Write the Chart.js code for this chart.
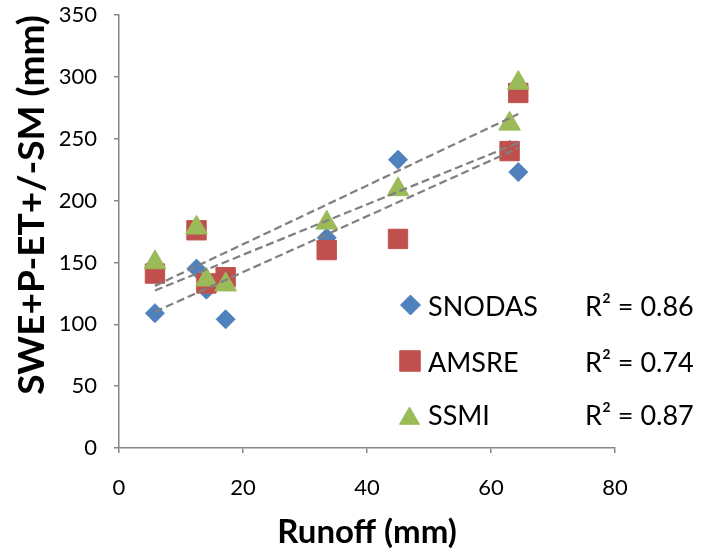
<!DOCTYPE html>
<html lang="en">
<head>
<meta charset="UTF-8" />
<title>Runoff vs SWE+P-ET+/-SM</title>
<style>
  html,body{margin:0;padding:0;background:#fff;}
  #wrap{position:relative;width:701px;height:553px;}
</style>
<script src="https://cdn.jsdelivr.net/npm/chart.js"></script>
</head>
<body>
<div id="wrap"><canvas id="chart" width="701" height="553"></canvas></div>
<script>
/* ====== data ====== */
const runoff = [5.8, 12.5, 14.1, 17.2, 33.5, 45.0, 63.0, 64.4];   // mm
const snodas = [109, 145, 128, 104, 170, 233, 241, 223];
const amsre  = [141, 176, 133, 138, 160, 169, 240, 287];
const ssmi   = [150, 178, 136, 132, 182, 209, 262, 295];
const seriesNames = ['SNODAS', 'AMSRE', 'SSMI'];
const rSquared    = ['0.86', '0.74', '0.87'];
const xTicks = [0, 20, 40, 60, 80];
const yTicks = [0, 50, 100, 150, 200, 250, 300, 350];

/* ====== styles ====== */
const BLUE = '#4F81BD', RED = '#C0504D', GREEN = '#9BBB59';
const AXIS = '#868686', TREND = '#808080';
const FONT = 'Lato, "Open Sans", sans-serif';

const pts = ys => runoff.map((x, i) => ({x, y: ys[i]}));

// least squares line, drawn over the data's x range (like the Excel trendline)
function trend(xs, ys){
  const n = xs.length;
  const mx = xs.reduce((a, b) => a + b) / n, my = ys.reduce((a, b) => a + b) / n;
  let sxy = 0, sxx = 0;
  xs.forEach((x, i) => { sxy += (x - mx) * (ys[i] - my); sxx += (x - mx) ** 2; });
  const b = sxy / sxx, a = my - b * mx;
  const x0 = Math.min(...xs), x1 = Math.max(...xs);
  return [{x: x0, y: a + b * x0}, {x: x1, y: a + b * x1}];
}

const trendDs = ys => ({
  type: 'line', data: trend(runoff, ys), borderColor: TREND, borderWidth: 2.25,
  borderDash: [8, 4], pointRadius: 0, fill: false, order: 0
});

const marks = [
  {name: seriesNames[0], color: BLUE,  style: 'rectRot',  r: 9.5},
  {name: seriesNames[1], color: RED,   style: 'rect',     r: 13.7},
  {name: seriesNames[2], color: GREEN, style: 'triangle', r: 12.5}
];

/* ====== legend inside plot ====== */
const insideLegend = {
  id: 'insideLegend',
  afterDraw(chart){
    const ctx = chart.ctx;
    const rows = [
      {mx: 410.5, my: 305,   ty: 307.5, r: 10},
      {mx: 410,   my: 361,   ty: 363,   r: 14.5},
      {mx: 409.5, my: 418.5, ty: 416.5, r: 11.5}
    ];
    ctx.save();
    rows.forEach((row, i) => {
      const m = marks[i];
      ctx.fillStyle = m.color; ctx.strokeStyle = m.color;
      Chart.helpers.drawPoint(ctx, {pointStyle: m.style, radius: row.r, rotation: 0, borderWidth: 1}, row.mx, row.my);
      ctx.fillStyle = '#000';
      ctx.font = '27px ' + FONT;
      ctx.textBaseline = 'middle';
      ctx.textAlign = 'left';
      ctx.fillText(m.name, 428, row.ty);
      ctx.fillText('R² = ' + rSquared[i], 585, row.ty);
    });
    ctx.restore();
  }
};

/* ====== chart ====== */
new Chart(document.getElementById('chart').getContext('2d'), {
  type: 'scatter',
  data: {
    datasets: [
      trendDs(snodas), trendDs(amsre), trendDs(ssmi),
      ...[ssmi, amsre, snodas].map((ys, k) => {
        const m = marks[2 - k];
        return {label: m.name, data: pts(ys), backgroundColor: m.color, borderColor: m.color,
          borderWidth: 1, pointStyle: m.style, pointRadius: m.r, pointHoverRadius: m.r, order: k + 1};
      })
    ]
  },
  options: {
    responsive: false, animation: false, events: [],
    layout: {padding: {left: 0, top: 15, right: 86, bottom: 0}},
    plugins: {legend: {display: false}, tooltip: {enabled: false}},
    scales: {
      x: {
        type: 'linear', min: 0, max: 80,
        afterBuildTicks: s => { s.ticks = xTicks.map(v => ({value: v})); },
        afterFit: s => { s.height = 105; },
        grid: {drawOnChartArea: false, drawTicks: true, tickLength: 5, color: AXIS, lineWidth: 1.5},
        border: {color: AXIS, width: 1.5},
        ticks: {color: '#000', padding: 22, font: {family: FONT, size: 22}},
        title: {display: true, text: 'Runoff (mm)', color: '#000', padding: {top: 0, bottom: 1},
          font: {family: FONT, size: 33, weight: 'bold', lineHeight: 1.2}}
      },
      y: {
        type: 'linear', min: 0, max: 350,
        afterBuildTicks: s => { s.ticks = yTicks.map(v => ({value: v})); },
        afterFit: s => { s.width = 119; s.paddingTop = 0; s.paddingBottom = 0; },
        grid: {drawOnChartArea: false, drawTicks: true, tickLength: 5, color: AXIS, lineWidth: 1.5},
        border: {color: AXIS, width: 1.5},
        ticks: {color: '#000', padding: 17, font: {family: FONT, size: 22}},
        title: {display: true, text: 'SWE+P-ET+/-SM (mm)', color: '#000', align: 'end', padding: {top: 10, bottom: 0},
          font: {family: FONT, size: 37, weight: 'bold', lineHeight: 1.2}}
      }
    }
  },
  plugins: [insideLegend]
});
</script>
</body>
</html>
